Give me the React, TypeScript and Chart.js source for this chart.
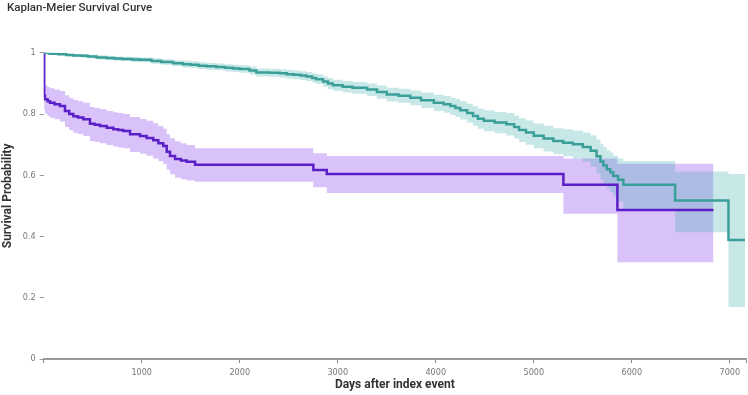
import React, { useEffect, useRef } from "react";
import { Chart, registerables } from "chart.js";

Chart.register(...registerables);

// Group A (teal) – Kaplan-Meier estimate with confidence band
const tealTime = [0, 60, 150, 230, 300, 380, 450, 540, 640, 720, 800, 900, 980, 1100, 1200, 1320, 1420, 1500, 1580, 1660, 1760, 1850, 1930, 2000, 2100, 2170, 2300, 2410, 2480, 2550, 2620, 2680, 2740, 2780, 2850, 2900, 2950, 3050, 3150, 3300, 3400, 3500, 3620, 3740, 3850, 3980, 4080, 4150, 4200, 4250, 4320, 4380, 4430, 4490, 4600, 4720, 4800, 4850, 4920, 5000, 5100, 5200, 5300, 5400, 5500, 5580, 5640, 5680, 5710, 5745, 5780, 5810, 5860, 5914, 6442, 6986, 7155];
const tealSurv = [1.0, 0.997, 0.995, 0.993, 0.991, 0.99, 0.988, 0.985, 0.983, 0.981, 0.98, 0.978, 0.977, 0.973, 0.97, 0.966, 0.963, 0.961, 0.958, 0.956, 0.954, 0.951, 0.949, 0.947, 0.942, 0.936, 0.935, 0.933, 0.93, 0.928, 0.926, 0.923, 0.918, 0.914, 0.906, 0.9, 0.894, 0.889, 0.886, 0.88, 0.872, 0.864, 0.86, 0.853, 0.845, 0.837, 0.832, 0.826, 0.82, 0.812, 0.803, 0.794, 0.785, 0.778, 0.772, 0.767, 0.758, 0.748, 0.74, 0.729, 0.72, 0.712, 0.706, 0.701, 0.692, 0.68, 0.662, 0.645, 0.632, 0.62, 0.61, 0.598, 0.585, 0.569, 0.518, 0.389, 0.389];
const tealUpper = [1.0, 0.999, 0.998, 0.997, 0.996, 0.995, 0.994, 0.992, 0.99, 0.988, 0.987, 0.986, 0.985, 0.982, 0.979, 0.976, 0.974, 0.972, 0.969, 0.967, 0.965, 0.963, 0.961, 0.959, 0.955, 0.949, 0.948, 0.946, 0.944, 0.942, 0.94, 0.937, 0.933, 0.93, 0.923, 0.918, 0.912, 0.908, 0.905, 0.9, 0.893, 0.886, 0.883, 0.877, 0.87, 0.863, 0.859, 0.854, 0.849, 0.842, 0.834, 0.826, 0.818, 0.812, 0.807, 0.803, 0.795, 0.786, 0.779, 0.769, 0.762, 0.754, 0.75, 0.746, 0.74, 0.731, 0.717, 0.703, 0.692, 0.682, 0.674, 0.664, 0.655, 0.647, 0.612, 0.604, 0.604];
const tealLower = [1.0, 0.995, 0.992, 0.989, 0.986, 0.985, 0.982, 0.978, 0.976, 0.974, 0.973, 0.97, 0.969, 0.964, 0.961, 0.956, 0.952, 0.95, 0.947, 0.945, 0.943, 0.939, 0.937, 0.935, 0.929, 0.923, 0.922, 0.919, 0.916, 0.914, 0.911, 0.908, 0.903, 0.898, 0.889, 0.882, 0.876, 0.87, 0.866, 0.859, 0.85, 0.841, 0.837, 0.829, 0.82, 0.81, 0.804, 0.797, 0.79, 0.782, 0.772, 0.762, 0.752, 0.744, 0.737, 0.73, 0.72, 0.709, 0.7, 0.688, 0.678, 0.669, 0.662, 0.655, 0.644, 0.629, 0.606, 0.586, 0.571, 0.557, 0.545, 0.531, 0.514, 0.485, 0.414, 0.17, 0.17];

// Group B (purple)
const purpleTime = [0, 5, 13, 40, 64, 110, 166, 217, 260, 302, 350, 404, 472, 520, 574, 643, 710, 760, 812, 881, 983, 1050, 1118, 1170, 1220, 1255, 1289, 1340, 1400, 1459, 1544, 2751, 2888, 5302, 5853, 6833];
const purpleSurv = [1.0, 0.86, 0.848, 0.842, 0.837, 0.832, 0.826, 0.81, 0.8, 0.793, 0.789, 0.783, 0.768, 0.765, 0.761, 0.755, 0.75, 0.748, 0.745, 0.734, 0.728, 0.722, 0.714, 0.705, 0.696, 0.677, 0.663, 0.653, 0.648, 0.644, 0.634, 0.617, 0.604, 0.569, 0.487, 0.487];
const purpleUpper = [1.0, 0.9, 0.893, 0.888, 0.884, 0.88, 0.875, 0.861, 0.852, 0.846, 0.842, 0.837, 0.823, 0.82, 0.816, 0.81, 0.806, 0.803, 0.8, 0.79, 0.784, 0.778, 0.77, 0.761, 0.752, 0.734, 0.721, 0.711, 0.705, 0.699, 0.688, 0.672, 0.663, 0.655, 0.638, 0.638];
const purpleLower = [1.0, 0.815, 0.801, 0.794, 0.788, 0.783, 0.776, 0.758, 0.747, 0.739, 0.735, 0.728, 0.712, 0.709, 0.705, 0.699, 0.694, 0.691, 0.688, 0.676, 0.67, 0.664, 0.655, 0.646, 0.637, 0.618, 0.603, 0.592, 0.587, 0.583, 0.579, 0.561, 0.542, 0.474, 0.316, 0.316];

// Axis ticks and labels
const xTickStep = 1000;
const xMax = 7165;
const yTicks = [0, 0.2, 0.4, 0.6, 0.8, 1];
const yAxisTitle = "Survival Probability";

const pts = (xs: number[], ys: number[]) => xs.map((x, i) => ({ x, y: ys[i] }));

const yTitlePlugin = {
  id: "yTitle",
  afterDraw(chart: any) {
    const { ctx, chartArea } = chart;
    ctx.save();
    ctx.translate(7.5, (chartArea.top + chartArea.bottom) / 2 - 10);
    ctx.rotate(-Math.PI / 2);
    ctx.font = "bold 12px Roboto";
    ctx.fillStyle = "#333";
    ctx.textAlign = "center";
    ctx.textBaseline = "middle";
    ctx.fillText(yAxisTitle, 0, 0);
    ctx.restore();
  },
};

export default function App() {
  const ref = useRef<HTMLCanvasElement | null>(null);
  useEffect(() => {
    document.body.style.margin = "0";
    if (!ref.current) return;
    const band = {
      pointRadius: 0,
      borderWidth: 0,
      stepped: true as const,
    };
    const tickFont = { family: "'Liberation Sans Narrow', 'DejaVu Sans Condensed', Roboto", size: 9 };
    const chart = new Chart(ref.current, {
      type: "line",
      plugins: [yTitlePlugin],
      data: {
        datasets: [
          {
            label: "A",
            data: pts(tealTime, tealSurv),
            borderColor: "#3b9f99",
            borderWidth: 2.5,
            pointRadius: 0,
            stepped: true,
            fill: false,
            order: 0,
          },
          {
            label: "B",
            data: pts(purpleTime, purpleSurv),
            borderColor: "#5a1fc6",
            borderWidth: 2.5,
            pointRadius: 0,
            stepped: true,
            fill: false,
            order: 1,
          },
          {
            label: "A upper",
            data: pts(tealTime, tealUpper),
            ...band,
            borderColor: "rgba(0,0,0,0)",
            backgroundColor: "rgba(72,180,180,0.3)",
            fill: 3,
            order: 2,
          },
          {
            label: "A lower",
            data: pts(tealTime, tealLower),
            ...band,
            borderColor: "rgba(0,0,0,0)",
            fill: false,
            order: 2,
          },
          {
            label: "B upper",
            data: pts(purpleTime, purpleUpper),
            ...band,
            borderColor: "rgba(0,0,0,0)",
            backgroundColor: "rgba(160,100,240,0.4)",
            fill: 5,
            order: 3,
          },
          {
            label: "B lower",
            data: pts(purpleTime, purpleLower),
            ...band,
            borderColor: "rgba(0,0,0,0)",
            fill: false,
            order: 3,
          },
        ],
      },
      options: {
        animation: false,
        responsive: true,
        maintainAspectRatio: false,
        layout: { padding: { left: 7, right: 2, top: 0, bottom: 0 } },
        plugins: {
          legend: { display: false },
          tooltip: { enabled: false },
          title: {
            display: true,
            text: "Kaplan-Meier Survival Curve",
            align: "start",
            color: "#333",
            font: { family: "Roboto", size: 11.5, weight: 500 },
            padding: { top: 1, bottom: 38 },
          },
        },
        scales: {
          x: {
            type: "linear",
            min: 0,
            max: xMax,
            afterFit: (s: any) => {
              s.height = 36;
              s.paddingLeft = 0;
              s.paddingRight = 0;
            },
            afterBuildTicks: (s: any) => {
              const t: { value: number }[] = [];
              for (let v = 0; v <= xMax; v += xTickStep) t.push({ value: v });
              t.push({ value: xMax });
              s.ticks = t;
            },
            ticks: {
              color: "#777",
              padding: 4,
              maxRotation: 0,
              minRotation: 0,
              autoSkip: false,
              font: tickFont,
              callback: function (_v: any, i: number, ticks: any[]) {
                const n = Number(ticks[i].value);
                return n > 0 && n < xMax ? String(n) : "";
              },
            },
            grid: {
              display: true,
              drawOnChartArea: false,
              drawTicks: true,
              tickLength: 4,
              color: "#888",
            },
            border: { display: true, color: "#999", width: 2 },
            title: {
              display: true,
              text: "Days after index event",
              color: "#333",
              font: { family: "Roboto", size: 12, weight: "bold" },
              padding: { top: 0, bottom: 3 },
            },
          },
          y: {
            type: "linear",
            min: 0,
            max: 1,
            afterFit: (s: any) => {
              s.width = 36.7;
            },
            afterBuildTicks: (s: any) => {
              s.ticks = yTicks.map((v) => ({ value: v }));
            },
            ticks: {
              color: "#777",
              padding: 4,
              font: tickFont,
              callback: function (_v: any, i: number, ticks: any[]) {
                return String(+Number(ticks[i].value).toFixed(1));
              },
            },
            grid: {
              display: true,
              drawOnChartArea: false,
              drawTicks: true,
              tickLength: 4,
              color: "#999",
            },
            border: { display: false },
            title: { display: false },
          },
        },
      },
    });
    return () => chart.destroy();
  }, []);
  return (
    <div style={{ width: 748, height: 395, position: "relative" }}>
      <canvas ref={ref} />
    </div>
  );
}
